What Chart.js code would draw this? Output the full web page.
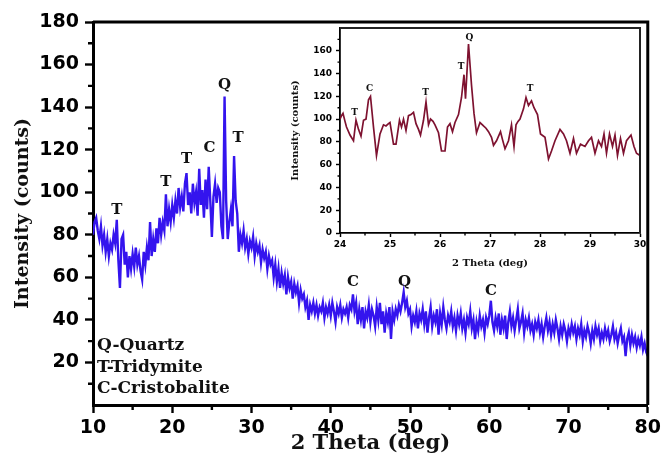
<!DOCTYPE html>
<html>
<head>
<meta charset="utf-8">
<script src="https://cdn.jsdelivr.net/npm/chart.js@4.4.1/dist/chart.umd.min.js"></script>
<style>
  html, body { margin: 0; padding: 0; background: #fff; }
  #wrap { position: relative; width: 665px; height: 458px; }
  #mainChart { position: absolute; left: 0; top: 0; }
  #insetChart { position: absolute; left: 280px; top: 18px; }
</style>
</head>
<body>
<div id="wrap">
  <canvas id="mainChart" width="665" height="458"></canvas>
  <canvas id="insetChart" width="375" height="257"></canvas>
</div>
<script>
// main XRD scan, 10..80 deg in 0.2 deg steps
const mainStart = 10;
const mainStep = 0.2;
const mainCounts = [
  80, 86, 88, 82, 78,   84, 75, 80, 72, 78,   70, 76, 73, 80, 76,     // 10-12.8
  87, 68, 55, 78, 80,   66, 72, 60, 70, 64,   71, 65, 74, 66, 70,     // 13-15.8
  63, 59, 72, 66, 74,   68, 86, 70, 78, 72,   83, 76, 88, 80, 86,     // 16-18.8
  82, 99, 84, 92, 86,   94, 88, 96, 90, 102,  93, 98, 91, 104, 109,   // 19-21.8
  94, 100, 90, 104, 95, 100, 89, 111, 94, 101, 88, 106, 92, 112, 96,  // 22-24.8
  79, 98, 104, 95, 102, 100, 84, 78, 145, 96,  78, 86, 92, 84, 117,   // 25-27.8
  96, 90, 72, 80, 76,   82, 74, 78, 71, 77,   74, 79, 70, 76, 72,     // 28-30.8
  75, 67, 73, 69, 72,   64, 70, 66, 68, 60,   66, 58, 64, 55, 62,     // 31-33.8
  57, 61, 52, 60, 55,   58, 50, 57, 53, 56,   48, 54, 50, 52, 46,     // 34-36.8
  49, 40, 47, 44, 48,   43, 47, 42, 46, 44,   48, 41, 46, 43, 47,     // 37-39.8
  42, 48, 44, 39, 46,   43, 47, 41, 45, 43,   46, 41, 47, 45, 52,     // 40-42.8
  44, 48, 38, 45, 40,   46, 36, 44, 41, 47,   39, 45, 42, 37, 46,     // 43-45.8
  40, 48, 38, 44, 34,   43, 39, 46, 31, 44,   40, 45, 42, 47, 44,     // 46-48.8
  48, 53, 46, 49, 43,   45, 37, 42, 39, 44,   36, 43, 40, 45, 38,     // 49-51.8
  44, 34, 41, 46, 37,   42, 39, 45, 33, 43,   38, 46, 40, 36, 42,     // 52-54.8
  39, 44, 37, 41, 35,   42, 38, 43, 36, 40,   34, 41, 38, 44, 36,     // 55-57.8
  40, 31, 39, 35, 42,   37, 40, 34, 41, 38,   42, 49, 39, 35, 41,     // 58-60.8
  37, 43, 33, 40, 36,   42, 31, 39, 44, 37,   41, 35, 40, 45, 36,     // 61-63.8
  39, 43, 34, 40, 37,   41, 35, 38, 33, 39,   36, 40, 34, 38, 32,     // 64-66.8
  37, 41, 35, 39, 33,   38, 34, 40, 36, 31,   37, 33, 38, 35, 30,     // 67-69.8
  36, 33, 38, 34, 37,   31, 36, 33, 38, 30,   35, 32, 37, 34, 29,     // 70-72.8
  35, 31, 37, 33, 36,   30, 34, 31, 36, 32,   35, 30, 33, 37, 31,     // 73-75.8
  34, 29, 33, 36, 30,   32, 23, 31, 34, 28,   33, 29, 32, 27, 31,     // 76-78.8
  28, 32, 26, 29, 25,   23                                             // 79-80
];
const mainXTicks = [10, 20, 30, 40, 50, 60, 70, 80];
const mainYTicks = [20, 40, 60, 80, 100, 120, 140, 160, 180];
const mainXMinor = [15, 25, 35, 45, 55, 65, 75];
const mainYMinor = [10, 30, 50, 70, 90, 110, 130, 150, 170];

// phase letters over the main peaks (label base in data units)
const mainPeakTheta = [13.0, 19.2, 21.8, 24.7, 26.6, 28.3, 42.8, 49.3, 60.2];
const mainPeakCounts = [88, 101, 112, 117, 147, 122, 54, 54, 50];
const mainPeakLabels = ['T', 'T', 'T', 'C', 'Q', 'T', 'C', 'Q', 'C'];
const phaseNames = ['Q-Quartz', 'T-Tridymite', 'C-Cristobalite'];

// inset: zoom of 24..30 deg
const insetTheta = [
  24.00, 24.03, 24.06, 24.10, 24.13, 24.20, 24.27, 24.32, 24.37, 24.42,
  24.47, 24.52, 24.57, 24.61, 24.67, 24.73, 24.80, 24.87, 24.92, 24.97,
  25.00, 25.07, 25.12, 25.19, 25.23, 25.27, 25.32, 25.37, 25.42, 25.47,
  25.52, 25.57, 25.61, 25.67, 25.72, 25.77, 25.81, 25.86, 25.90, 25.97,
  26.03, 26.10, 26.15, 26.20, 26.25, 26.30, 26.37, 26.43, 26.48, 26.51,
  26.57, 26.63, 26.68, 26.73, 26.80, 26.87, 26.92, 26.97, 27.03, 27.07,
  27.13, 27.21, 27.25, 27.30, 27.37, 27.43, 27.48, 27.52, 27.56, 27.60,
  27.67, 27.72, 27.77, 27.83, 27.88, 27.95, 28.01, 28.10, 28.17, 28.23,
  28.30, 28.40, 28.47, 28.53, 28.60, 28.67, 28.73, 28.81, 28.90, 28.97,
  29.03, 29.10, 29.17, 29.23, 29.28, 29.33, 29.39, 29.45, 29.50, 29.55,
  29.61, 29.67, 29.73, 29.82, 29.88, 29.93, 30.00
];
const insetCounts = [
  100, 103, 105, 98, 93, 86, 81, 99, 91, 85,
  99, 100, 117, 120, 93, 68, 87, 95, 94, 96,
  97, 78, 78, 99, 93, 100, 90, 103, 104, 106,
  96, 91, 86, 99, 115, 95, 100, 98, 95, 88,
  72, 72, 93, 96, 89, 97, 104, 119, 139, 118,
  166, 130, 105, 88, 97, 94, 92, 89, 84, 77,
  81, 89, 82, 74, 81, 95, 76, 95, 98, 100,
  109, 119, 112, 116, 110, 104, 87, 84, 65, 72,
  81, 91, 87, 81, 70, 83, 70, 78, 76, 81,
  84, 70, 81, 76, 87, 70, 87, 76, 86, 68,
  83, 70, 81, 86, 76, 70, 68
];
const insetXTicks = [24, 25, 26, 27, 28, 29, 30];
const insetYTicks = [0, 20, 40, 60, 80, 100, 120, 140, 160];
const insetXMinor = [24.5, 25.5, 26.5, 27.5, 28.5, 29.5];
const insetYMinor = [10, 30, 50, 70, 90, 110, 130, 150, 170];
const insetPeakTheta = [24.29, 24.59, 25.71, 26.42, 26.59, 27.8];
const insetPeakCounts = [102, 123, 119, 142, 168, 123];
const insetPeakLabels = ['T', 'C', 'T', 'T', 'Q', 'T'];

const serif = '"DejaVu Serif", serif';
const sans = '"DejaVu Sans", sans-serif';

// minor ticks, top/right frame, peak letters and phase key
const decor = {
    id: 'decor',
    afterDraw(chart, args, opts) {
        const { ctx, chartArea: a } = chart;
        const x = chart.scales.x;
        const y = chart.scales.y;
        ctx.save();
        ctx.strokeStyle = '#000';
        ctx.lineWidth = opts.tickWidth;
        ctx.beginPath();
        opts.minorX.forEach(v => {
            const px = x.getPixelForValue(v);
            ctx.moveTo(px, a.bottom);
            ctx.lineTo(px, a.bottom + opts.minorLen);
        });
        opts.minorY.forEach(v => {
            const py = y.getPixelForValue(v);
            ctx.moveTo(a.left, py);
            ctx.lineTo(a.left - opts.minorLen, py);
        });
        ctx.stroke();

        ctx.strokeStyle = opts.frameColor;
        ctx.lineWidth = opts.frameWidth;
        ctx.beginPath();
        ctx.moveTo(a.left, a.top);
        ctx.lineTo(a.right, a.top);
        ctx.lineTo(a.right, a.bottom);
        ctx.stroke();

        ctx.fillStyle = '#111';
        ctx.font = opts.peakFont;
        ctx.textAlign = 'center';
        ctx.textBaseline = 'bottom';
        opts.peakTheta.forEach((t, i) => {
            ctx.fillText(opts.peakLabels[i], x.getPixelForValue(t), y.getPixelForValue(opts.peakCounts[i]));
        });

        if (opts.key) {
            ctx.font = opts.keyFont;
            ctx.textAlign = 'left';
            ctx.textBaseline = 'alphabetic';
            const n = opts.key.length;
            opts.key.forEach((s, i) => {
                ctx.fillText(s, a.left + 4, a.bottom - 12 - (n - 1 - i) * 21.5);
            });
        }
        ctx.restore();
    }
};

function axisX(ticks, min, max, fontSize, tickLen, tickPad, title, titleSize, titlePad, height, borderW) {
    return {
        type: 'linear', min: min, max: max,
        afterBuildTicks: s => { s.ticks = ticks.map(v => ({ value: v })); },
        afterFit: s => { s.height = height; },
        border: { color: '#000', width: borderW },
        grid: { drawOnChartArea: false, tickLength: tickLen, tickWidth: borderW * 0.8, tickColor: '#000' },
        ticks: { autoSkip: false, maxRotation: 0, padding: tickPad, color: '#000',
                 font: { family: sans, size: fontSize, weight: 'bold' } },
        title: { display: true, text: title, color: '#111', padding: { top: 0, bottom: titlePad },
                 font: { family: serif, size: titleSize, weight: 'bold' } }
    };
}

function axisY(ticks, min, max, fontSize, tickLen, tickPad, title, titleSize, titlePad, width, borderW) {
    return {
        type: 'linear', min: min, max: max,
        afterBuildTicks: s => { s.ticks = ticks.map(v => ({ value: v })); },
        afterFit: s => { s.width = width; },
        border: { color: '#000', width: borderW },
        grid: { drawOnChartArea: false, tickLength: tickLen, tickWidth: borderW * 0.8, tickColor: '#000' },
        ticks: { autoSkip: false, padding: tickPad, color: '#000',
                 font: { family: sans, size: fontSize, weight: 'bold' } },
        title: { display: true, text: title, color: '#111', padding: { top: titlePad, bottom: 0 },
                 font: { family: serif, size: titleSize, weight: 'bold' } }
    };
}

new Chart(document.getElementById('mainChart'), {
    type: 'line',
    data: {
        datasets: [{
            data: mainCounts.map((v, i) => ({ x: mainStart + i * mainStep, y: v })),
            borderColor: '#3414ee',
            borderWidth: 2.4,
            pointRadius: 0,
            tension: 0
        }]
    },
    options: {
        responsive: false,
        animation: false,
        layout: { padding: { left: 0, top: 22, right: 15, bottom: 0 } },
        scales: {
            x: axisX(mainXTicks, 10, 80, 19, 8, 4, '2 Theta (deg)', 21, 2, 53, 3),
            y: axisY(mainYTicks, 0, 180, 19, 8, 6, 'Intensity (counts)', 19, 12, 93, 3)
        },
        plugins: {
            legend: { display: false },
            tooltip: { enabled: false },
            decor: {
                minorX: mainXMinor, minorY: mainYMinor, minorLen: 5, tickWidth: 2.4,
                frameWidth: 3, frameColor: '#000',
                peakTheta: mainPeakTheta, peakCounts: mainPeakCounts, peakLabels: mainPeakLabels,
                peakFont: 'bold 15px ' + serif,
                key: phaseNames, keyFont: 'bold 17px ' + serif
            }
        }
    },
    plugins: [decor]
});

new Chart(document.getElementById('insetChart'), {
    type: 'line',
    data: {
        datasets: [{
            data: insetTheta.map((t, i) => ({ x: t, y: insetCounts[i] })),
            borderColor: '#7e1230',
            borderWidth: 1.7,
            pointRadius: 0,
            tension: 0
        }]
    },
    options: {
        responsive: false,
        animation: false,
        layout: { padding: { left: 0, top: 10, right: 15, bottom: 0 } },
        scales: {
            x: axisX(insetXTicks, 24, 30, 9, 4, 2, '2 Theta (deg)', 10, 6, 42, 1.8),
            y: axisY(insetYTicks, 0, 180, 9, 4, 4, 'Intensity (counts)', 10, 9, 60, 1.8)
        },
        plugins: {
            legend: { display: false },
            tooltip: { enabled: false },
            decor: {
                minorX: insetXMinor, minorY: insetYMinor, minorLen: 2.5, tickWidth: 1.4,
                frameWidth: 2, frameColor: '#222',
                peakTheta: insetPeakTheta, peakCounts: insetPeakCounts, peakLabels: insetPeakLabels,
                peakFont: 'bold 9px ' + serif
            }
        }
    },
    plugins: [decor]
});
</script>
</body>
</html>
